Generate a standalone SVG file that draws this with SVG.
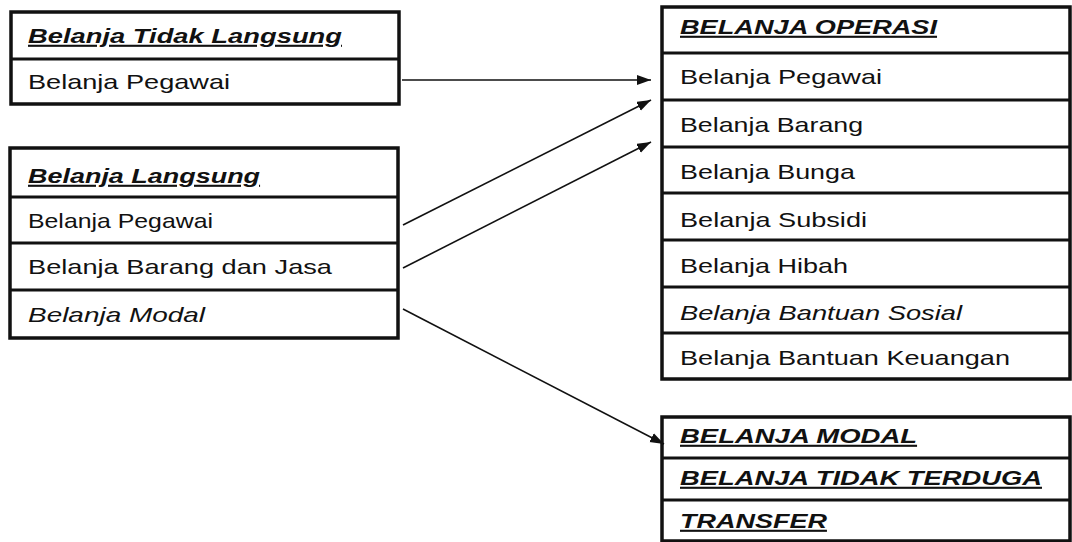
<svg xmlns="http://www.w3.org/2000/svg" width="1072" height="542" viewBox="0 0 1072 542">
<defs>
<style>
.box{fill:#fff;stroke:#111;stroke-width:3.5}
.sep{stroke:#111;stroke-width:3}
.t{font-family:"Liberation Sans",Arial,sans-serif;font-size:21px;fill:#111}
.h{font-weight:bold;font-style:italic;text-decoration:underline}
.i{font-style:italic}
.c{stroke:#111;stroke-width:1.6;fill:none}
</style>
<marker id="arr" markerUnits="userSpaceOnUse" markerWidth="16" markerHeight="12" refX="14" refY="5" orient="auto">
<path d="M0,0 L14,5 L0,10 z" fill="#111"/>
</marker>
</defs>
<rect width="1072" height="542" fill="#fff"/>

<g id="belanja-tidak-langsung">
<rect class="box" x="11" y="12" width="388" height="92"/>
<line class="sep" x1="11" y1="59" x2="399" y2="59"/>
<text class="t h" transform="translate(28 43) scale(1.28 1)" textLength="245.3" lengthAdjust="spacingAndGlyphs">Belanja Tidak Langsung</text>
<text class="t" transform="translate(28 89) scale(1.28 1)" textLength="157.8" lengthAdjust="spacingAndGlyphs">Belanja Pegawai</text>
</g>

<g id="belanja-langsung">
<rect class="box" x="10" y="148" width="388" height="190"/>
<line class="sep" x1="10" y1="197" x2="398" y2="197"/>
<line class="sep" x1="10" y1="243" x2="398" y2="243"/>
<line class="sep" x1="10" y1="290" x2="398" y2="290"/>
<text class="t h" transform="translate(28 183) scale(1.28 1)" textLength="181.3" lengthAdjust="spacingAndGlyphs">Belanja Langsung</text>
<text class="t" transform="translate(28 228) scale(1.28 1)" textLength="144.5" lengthAdjust="spacingAndGlyphs">Belanja Pegawai</text>
<text class="t" transform="translate(28 274) scale(1.28 1)" textLength="237.5" lengthAdjust="spacingAndGlyphs">Belanja Barang dan Jasa</text>
<text class="t i" transform="translate(28 322) scale(1.28 1)" textLength="138.3" lengthAdjust="spacingAndGlyphs">Belanja Modal</text>
</g>

<g id="belanja-operasi">
<rect class="box" x="662" y="7" width="408" height="372"/>
<line class="sep" x1="662" y1="53" x2="1070" y2="53"/>
<line class="sep" x1="662" y1="100" x2="1070" y2="100"/>
<line class="sep" x1="662" y1="147" x2="1070" y2="147"/>
<line class="sep" x1="662" y1="193" x2="1070" y2="193"/>
<line class="sep" x1="662" y1="240" x2="1070" y2="240"/>
<line class="sep" x1="662" y1="287" x2="1070" y2="287"/>
<line class="sep" x1="662" y1="333" x2="1070" y2="333"/>
<text class="t h" transform="translate(680 34) scale(1.28 1)" textLength="200.8" lengthAdjust="spacingAndGlyphs">BELANJA OPERASI</text>
<text class="t" transform="translate(680 84) scale(1.28 1)" textLength="157.8" lengthAdjust="spacingAndGlyphs">Belanja Pegawai</text>
<text class="t" transform="translate(680 132) scale(1.28 1)" textLength="143" lengthAdjust="spacingAndGlyphs">Belanja Barang</text>
<text class="t" transform="translate(680 179) scale(1.28 1)" textLength="136.7" lengthAdjust="spacingAndGlyphs">Belanja Bunga</text>
<text class="t" transform="translate(680 227) scale(1.28 1)" textLength="146.1" lengthAdjust="spacingAndGlyphs">Belanja Subsidi</text>
<text class="t" transform="translate(680 273) scale(1.28 1)" textLength="131.3" lengthAdjust="spacingAndGlyphs">Belanja Hibah</text>
<text class="t i" transform="translate(680 320) scale(1.28 1)" textLength="220.3" lengthAdjust="spacingAndGlyphs">Belanja Bantuan Sosial</text>
<text class="t" transform="translate(680 365) scale(1.28 1)" textLength="257.8" lengthAdjust="spacingAndGlyphs">Belanja Bantuan Keuangan</text>
</g>

<g id="belanja-lain">
<rect class="box" x="662" y="417" width="408" height="124"/>
<line class="sep" x1="662" y1="458" x2="1070" y2="458"/>
<line class="sep" x1="662" y1="500" x2="1070" y2="500"/>
<text class="t h" transform="translate(680 443) scale(1.28 1)" textLength="185.2" lengthAdjust="spacingAndGlyphs">BELANJA MODAL</text>
<text class="t h" transform="translate(680 485) scale(1.28 1)" textLength="282.8" lengthAdjust="spacingAndGlyphs">BELANJA TIDAK TERDUGA</text>
<text class="t h" transform="translate(680 528) scale(1.28 1)" textLength="114.8" lengthAdjust="spacingAndGlyphs">TRANSFER</text>
</g>

<g id="connectors">
<line class="c" x1="402" y1="80" x2="651" y2="80" marker-end="url(#arr)"/>
<line class="c" x1="403" y1="225" x2="651" y2="100" marker-end="url(#arr)"/>
<line class="c" x1="403" y1="268" x2="651" y2="142" marker-end="url(#arr)"/>
<line class="c" x1="403" y1="309" x2="664" y2="444" marker-end="url(#arr)"/>
</g>
</svg>
